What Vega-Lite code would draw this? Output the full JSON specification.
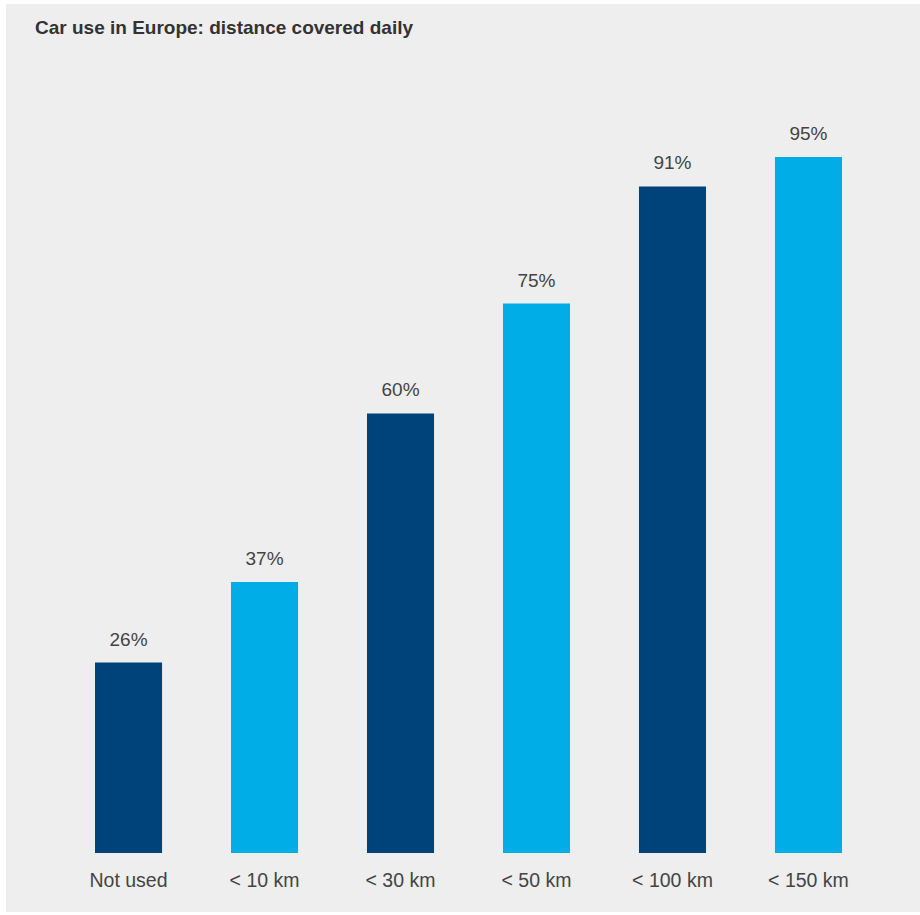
{
  "$schema": "https://vega.github.io/schema/vega-lite/v6.json",
  "autosize": {"type": "none"},
  "width": 914,
  "height": 908,
  "padding": {"left": 6, "top": 4, "right": 0, "bottom": 3},
  "background": "#ffffff",
  "config": {
    "view": {"fill": "#eeeeee", "stroke": null},
    "font": "Liberation Sans"
  },
  "title": {
    "text": "Car use in Europe: distance covered daily",
    "anchor": "start",
    "frame": "group",
    "orient": "top",
    "offset": -49,
    "baseline": "alphabetic",
    "dx": 29,
    "fontSize": 19,
    "fontWeight": "bold",
    "color": "#333333",
    "font": "Liberation Sans"
  },
  "data": {
    "values": [
      {"distance": "Not used", "share": 0.26},
      {"distance": "< 10 km", "share": 0.37},
      {"distance": "< 30 km", "share": 0.60},
      {"distance": "< 50 km", "share": 0.75},
      {"distance": "< 100 km", "share": 0.91},
      {"distance": "< 150 km", "share": 0.95}
    ]
  },
  "encoding": {
    "x": {
      "field": "distance",
      "type": "nominal",
      "sort": null,
      "scale": {"paddingInner": 0.507, "paddingOuter": 0.614, "align": 0.533},
      "axis": {
        "title": null,
        "orient": "bottom",
        "offset": -43,
        "domain": false,
        "ticks": false,
        "labelPadding": 2,
        "labelAngle": 0,
        "labelFontSize": 19.5,
        "labelColor": "#444444",
        "labelFont": "Liberation Sans"
      }
    },
    "y": {
      "field": "share",
      "type": "quantitative",
      "scale": {"domain": [-0.0805, 1.159], "nice": false, "zero": false},
      "axis": null
    }
  },
  "layer": [
    {
      "mark": {"type": "bar"},
      "encoding": {
        "color": {
          "field": "distance",
          "type": "nominal",
          "sort": null,
          "scale": {"range": ["#00427a", "#00ade6", "#00427a", "#00ade6", "#00427a", "#00ade6"]},
          "legend": null
        }
      }
    },
    {
      "mark": {"type": "text", "baseline": "alphabetic", "dy": -17, "fontSize": 19, "color": "#444444", "font": "Liberation Sans"},
      "encoding": {
        "text": {"field": "share", "type": "quantitative", "format": ".0%"}
      }
    }
  ]
}
